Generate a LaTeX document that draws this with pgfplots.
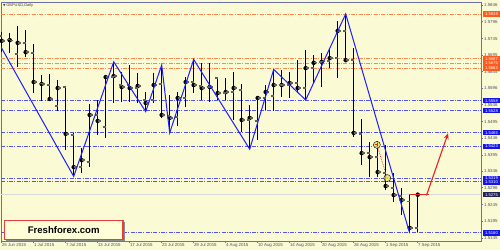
\documentclass[border=0pt]{standalone}
\usepackage{fontspec}
\setmainfont{Liberation Sans}
\newfontfamily\dejavu{DejaVu Sans}
\usepackage{pgfplots}
\usepackage{pgfplotstable}
\pgfplotsset{compat=1.18}
\usetikzlibrary{arrows.meta}

\definecolor{bg}{RGB}{250,250,212}
\definecolor{axiscol}{RGB}{110,110,170}
\definecolor{lblcol}{RGB}{80,80,110}
\definecolor{orln}{RGB}{255,135,75}
\definecolor{orbox}{RGB}{255,90,30}
\definecolor{blln}{RGB}{85,85,230}
\definecolor{blbox}{RGB}{20,20,235}
\definecolor{navybox}{RGB}{35,35,90}
\definecolor{tickgray}{RGB}{95,95,95}
\definecolor{zz}{RGB}{30,30,255}
\definecolor{arrred}{RGB}{230,35,35}
\definecolor{ylw}{RGB}{235,225,90}

\pgfdeclareplotmark{otick}{\pgfpathmoveto{\pgfpoint{-3bp}{0bp}}\pgfpathlineto{\pgfpoint{0bp}{0bp}}\pgfusepathqstroke}
\pgfdeclareplotmark{ctick}{\pgfpathmoveto{\pgfpoint{0bp}{0bp}}\pgfpathlineto{\pgfpoint{3bp}{0bp}}\pgfusepathqstroke}

\pgfplotstableread{
i o h l c
0 1.5753 1.5766 1.5704 1.5738
1 1.5742 1.5761 1.5702 1.5740
2 1.5698 1.5783 1.5660 1.5732
3 1.5732 1.5771 1.5689 1.5704
4 1.5701 1.5729 1.5582 1.5614
5 1.5610 1.5635 1.5557 1.5608
6 1.5605 1.5637 1.5557 1.5563
7 1.5542 1.5620 1.5527 1.5596
8 1.5599 1.5602 1.5410 1.5458
9 1.5455 1.5461 1.5330 1.5358
10 1.5358 1.5416 1.5340 1.5379
11 1.5373 1.5548 1.5358 1.5515
12 1.5515 1.5560 1.5455 1.5497
13 1.5479 1.5635 1.5446 1.5629
14 1.5629 1.5675 1.5551 1.5632
15 1.5605 1.5644 1.5554 1.5599
16 1.5605 1.5665 1.5554 1.5596
17 1.5596 1.5641 1.5551 1.5602
18 1.5560 1.5584 1.5525 1.5551
19 1.5560 1.5641 1.5551 1.5605
20 1.5608 1.5665 1.5506 1.5515
21 1.5512 1.5575 1.5461 1.5506
22 1.5509 1.5584 1.5482 1.5566
23 1.5566 1.5629 1.5539 1.5614
24 1.5614 1.5682 1.5581 1.5605
25 1.5602 1.5671 1.5560 1.5596
26 1.5599 1.5671 1.5554 1.5599
27 1.5626 1.5629 1.5560 1.5581
28 1.5581 1.5626 1.5560 1.5584
29 1.5584 1.5644 1.5500 1.5596
30 1.5590 1.5608 1.5464 1.5500
31 1.5500 1.5545 1.5412 1.5506
32 1.5497 1.5572 1.5440 1.5566
33 1.5566 1.5605 1.5530 1.5584
34 1.5572 1.5652 1.5528 1.5605
35 1.5605 1.5650 1.5570 1.5605
36 1.5605 1.5645 1.5565 1.5611
37 1.5611 1.5680 1.5580 1.5596
38 1.5596 1.5711 1.5560 1.5656
39 1.5656 1.5695 1.5610 1.5672
40 1.5674 1.5701 1.5600 1.5675
41 1.5677 1.5717 1.5655 1.5686
42 1.5686 1.5799 1.5625 1.5768
43 1.5768 1.5819 1.5674 1.5680
44 1.5680 1.5717 1.5449 1.5461
45 1.5458 1.5502 1.5364 1.5400
46 1.5400 1.5434 1.5327 1.5388
47 1.5388 1.5437 1.5327 1.5343
48 1.5340 1.5425 1.5289 1.5301
49 1.5295 1.5340 1.5254 1.5274
50 1.5271 1.5295 1.5214 1.5259
51 1.5254 1.5274 1.5159 1.5175
52 1.5175 1.5276 1.5164 1.5275
}\ohlc

\begin{document}
\begin{tikzpicture}
\path[use as bounding box, fill=bg] (-1bp,-9bp) rectangle (499bp,241bp);
\begin{axis}[
  scale only axis, width=480bp, height=239bp,
  xmin=-0.0875, xmax=59.9125,
  ymin=1.51356, ymax=1.58550,
  axis background/.style={fill=bg},
  axis line style={axiscol, line width=0.8bp},
  clip mode=individual,
  tick align=outside,
  major tick length=2bp,
  tick style={axiscol, line width=0.6bp},
  xtick={0,4,...,52},
  xticklabels={25 Jun 2015,1 Jul 2015,7 Jul 2015,13 Jul 2015,17 Jul 2015,23 Jul 2015,29 Jul 2015,4 Aug 2015,10 Aug 2015,14 Aug 2015,20 Aug 2015,26 Aug 2015,1 Sep 2015,7 Sep 2015},
  xticklabel style={anchor=north west, inner sep=0.6bp, xshift=-0.5bp, font=\fontsize{4.4}{4.4}\selectfont, text=lblcol},
  ytick={1.5846,1.5796,1.5745,1.5695,1.5645,1.5596,1.5546,1.5495,1.5446,1.5395,1.5346,1.5296,1.5245,1.5195,1.5145},
  yticklabels={1.5846,1.5796,1.5745,1.5695,1.5645,1.5596,1.5546,1.5495,1.5446,1.5395,1.5346,1.5296,1.5245,1.5195,1.5145},
  yticklabel pos=right,
  ytick pos=right,
  xtick pos=bottom,
  yticklabel style={anchor=west, inner sep=0.6bp, xshift=0.3bp, font=\fontsize{4.4}{4.4}\selectfont, text=lblcol},
]
% horizontal levels
\addplot[orln, line width=0.8bp, dash pattern=on 4bp off 1.3bp on 1bp off 1.3bp] coordinates {(-1,1.5819) (61,1.5819)};
\addplot[orln, line width=0.8bp, dash pattern=on 4bp off 1.3bp on 1bp off 1.3bp] coordinates {(-1,1.5684) (61,1.5684)};
\addplot[orln, line width=0.8bp, dash pattern=on 4bp off 1.3bp on 1bp off 1.3bp] coordinates {(-1,1.5671) (61,1.5671)};
\addplot[orln, line width=0.8bp, dash pattern=on 4bp off 1.3bp on 1bp off 1.3bp] coordinates {(-1,1.5656) (61,1.5656)};
\addplot[blln, line width=0.8bp, dash pattern=on 4bp off 1.3bp on 1bp off 1.3bp] coordinates {(-1,1.5558) (61,1.5558)};
\addplot[blln, line width=0.8bp, dash pattern=on 4bp off 1.3bp on 1bp off 1.3bp] coordinates {(-1,1.5528) (61,1.5528)};
\addplot[blln, line width=0.8bp, dash pattern=on 4bp off 1.3bp on 1bp off 1.3bp] coordinates {(-1,1.5462) (61,1.5462)};
\addplot[blln, line width=0.8bp, dash pattern=on 4bp off 1.3bp on 1bp off 1.3bp] coordinates {(-1,1.5420) (61,1.5420)};
\addplot[blln, line width=0.8bp, dash pattern=on 4bp off 1.3bp on 1bp off 1.3bp] coordinates {(-1,1.5324) (61,1.5324)};
\addplot[blln, line width=0.8bp, dash pattern=on 4bp off 1.3bp on 1bp off 1.3bp] coordinates {(-1,1.5314) (61,1.5314)};
\addplot[blln, line width=0.8bp, dash pattern=on 4bp off 1.3bp on 1bp off 1.3bp] coordinates {(-1,1.5160) (61,1.5160)};
\addplot[black!15, line width=0.6bp] coordinates {(-1,1.5275) (61,1.5275)};
% bars
\addplot[only marks, mark=none, error bars/.cd, y dir=both, y explicit, error mark=none, error bar style={black, line width=1.3bp}]
  table[x=i, y=c, y error plus expr=\thisrow{h}-\thisrow{c}, y error minus expr=\thisrow{c}-\thisrow{l}] {\ohlc};
\addplot[only marks, mark=otick, mark options={draw=tickgray, line width=1.4bp}] table[x=i, y=o] {\ohlc};
\addplot[only marks, mark=ctick, mark options={draw=tickgray, line width=1.4bp}] table[x=i, y=c] {\ohlc};
% zigzag
\addplot[zz, line width=1bp] coordinates {(-5,1.5930) (9,1.5330) (14,1.5675) (18,1.5525) (20,1.5665) (21,1.5461) (24,1.5682) (31,1.5412) (34,1.5652) (38,1.5560) (43,1.5819) (51,1.5159)};
% markers
\addplot[arrred, densely dotted, line width=0.7bp] coordinates {(46.9,1.5425) (48.2,1.5325)};
\addplot[only marks, mark=*, mark size=3.5bp, mark options={fill=ylw, draw=none, fill opacity=0.75}] coordinates {(46.9,1.5425) (48.2,1.5325)};
\addplot[only marks, mark=+, mark size=1.5bp, mark options={arrred, line width=0.8bp}] coordinates {(46.9,1.5425)};
% red annotation
\addplot[arrred, line width=1.1bp] coordinates {(50.9,1.5275) (53.4,1.5275)};
\addplot[arrred, line width=1.1bp, -{Stealth[length=6bp,width=5bp]}] coordinates {(53.1,1.5273) (55.8,1.5460)};
% price boxes
\begin{scope}[every node/.style={anchor=west, xshift=1.8bp, inner sep=0pt, minimum width=17bp, minimum height=5.6bp, text=white, font=\fontsize{4.2}{4.2}\selectfont}]
\node[fill=orbox] at (axis cs:59.9125,1.5819) {1.5819};
\node[fill=orbox] at (axis cs:59.9125,1.5684) {1.5687};
\node[fill=orbox] at (axis cs:59.9125,1.5671) {1.5675};
\node[fill=orbox] at (axis cs:59.9125,1.5656) {1.5663};
\node[fill=blbox] at (axis cs:59.9125,1.5558) {1.5558};
\node[fill=blbox] at (axis cs:59.9125,1.5528) {1.5528};
\node[fill=blbox] at (axis cs:59.9125,1.5462) {1.5465};
\node[fill=blbox] at (axis cs:59.9125,1.5420) {1.5423};
\node[fill=blbox] at (axis cs:59.9125,1.5324) {1.5319};
\node[fill=blbox] at (axis cs:59.9125,1.5314) {1.5310};
\node[fill=navybox] at (axis cs:59.9125,1.5275) {1.5275};
\node[fill=blbox] at (axis cs:59.9125,1.5160) {1.5160};
\end{scope}
\end{axis}
% title
\node[anchor=west, inner sep=0pt, text=black!75, font=\fontsize{4}{4}\selectfont] at (2bp,236bp) {{\dejavu\fontsize{3.2}{3.2}\selectfont ▼}\,GBPUSD,Daily};
% watermark
\fill[black!45] (5bp,0.2bp) rectangle (123.5bp,18.8bp);
\draw[fill={rgb,255:red,255;green,255;blue,215}, draw={rgb,255:red,235;green,60;blue,60}, line width=1.2bp] (3.5bp,1.8bp) rectangle (122bp,20.3bp);
\node[font=\fontsize{9.6}{9.6}\selectfont\bfseries] at (62.7bp,11bp) {Freshforex.com};
\end{tikzpicture}
\end{document}
